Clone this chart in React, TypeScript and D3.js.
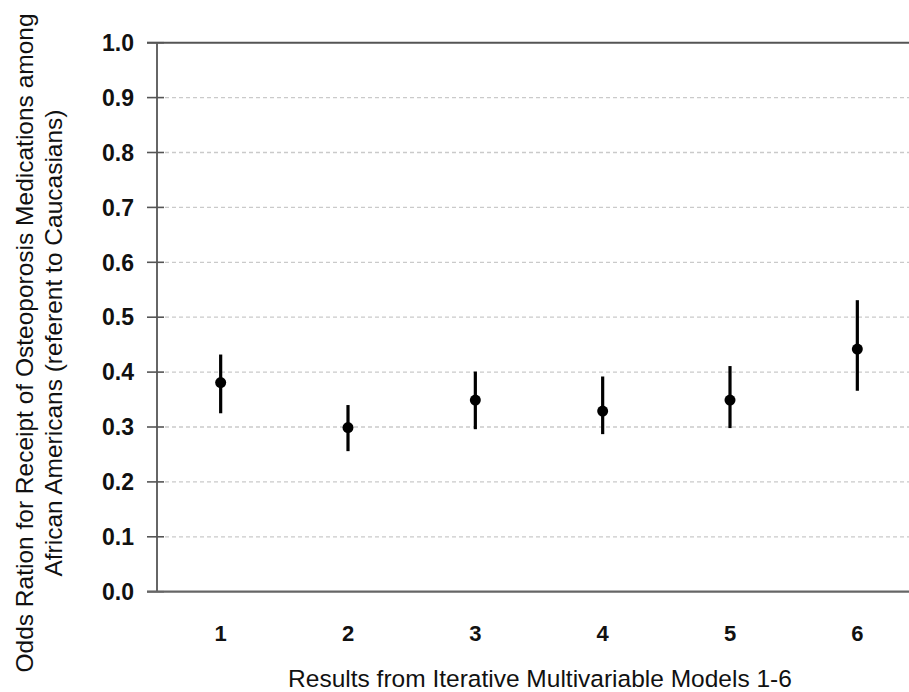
import React from "react";
import * as d3 from "d3";

const categories = ["1", "2", "3", "4", "5", "6"];
const oddsRatio = [0.381, 0.299, 0.349, 0.329, 0.349, 0.442];
const ciLower = [0.325, 0.256, 0.296, 0.287, 0.298, 0.366];
const ciUpper = [0.432, 0.34, 0.401, 0.392, 0.411, 0.531];
const yTicks = [0, 0.1, 0.2, 0.3, 0.4, 0.5, 0.6, 0.7, 0.8, 0.9, 1.0];
const xTitle = "Results from Iterative Multivariable Models 1-6";
const yTitleLines = [
  "Odds Ration for Receipt of Osteoporosis Medications among",
  "African Americans (referent to Caucasians)",
];

const W = 909;
const H = 692;
const left = 157;
const top = 42.7;
const bottom = 591.7;
const right = 921;
const font = "'Liberation Sans', Arial, sans-serif";

export default function App() {
  const x = d3.scalePoint<string>().domain(categories).range([left, right]).padding(0.5);
  const y = d3.scaleLinear().domain([0, 1]).range([bottom, top]);
  const fmt = d3.format(".1f");
  return (
    <svg
      width={W}
      height={H}
      style={{ position: "absolute", left: 0, top: 0, background: "#fff" }}
      fontFamily={font}
    >
      {/* gridlines */}
      {yTicks.filter((t) => t > 0 && t < 1).map((t) => (
        <line
          key={"g" + t}
          x1={left + 8}
          x2={W}
          y1={y(t)}
          y2={y(t)}
          stroke="#cacaca"
          strokeWidth={1.3}
          strokeDasharray="4,3"
        />
      ))}
      {/* top solid line at 1.0 */}
      <line x1={147} x2={W} y1={y(1)} y2={y(1)} stroke="#555" strokeWidth={2} />
      {/* y axis */}
      <line x1={left} x2={left} y1={y(1)} y2={y(0)} stroke="#666" strokeWidth={2} />
      {yTicks.map((t) => (
        <g key={"t" + t}>
          <line x1={147} x2={164} y1={y(t)} y2={y(t)} stroke="#555" strokeWidth={1.6} />
          <text
            x={134}
            y={y(t)}
            dy="0.36em"
            textAnchor="end"
            fontSize={23}
            fontWeight="bold"
            fill="#111"
          >
            {fmt(t)}
          </text>
        </g>
      ))}
      {/* x axis */}
      <line x1={147} x2={W} y1={y(0)} y2={y(0)} stroke="#666" strokeWidth={2.2} />
      {categories.map((c) => (
        <text
          key={"c" + c}
          x={x(c)}
          y={641}
          textAnchor="middle"
          fontSize={22}
          fontWeight="bold"
          fill="#111"
        >
          {c}
        </text>
      ))}
      {/* error bars + points */}
      {categories.map((c, i) => (
        <g key={"p" + c}>
          <line
            x1={x(c)}
            x2={x(c)}
            y1={y(ciLower[i])}
            y2={y(ciUpper[i])}
            stroke="#000"
            strokeWidth={3.2}
          />
          <circle cx={x(c)} cy={y(oddsRatio[i])} r={5.5} fill="#000" />
        </g>
      ))}
      {/* axis titles */}
      <text x={540} y={687} textAnchor="middle" fontSize={24.5} fill="#111">
        {xTitle}
      </text>
      <g transform="translate(0,343) rotate(-90)">
        {yTitleLines.map((l, i) => (
          <text key={l} x={0} y={33 + i * 29} textAnchor="middle" fontSize={24.5} fill="#111">
            {l}
          </text>
        ))}
      </g>
    </svg>
  );
}
